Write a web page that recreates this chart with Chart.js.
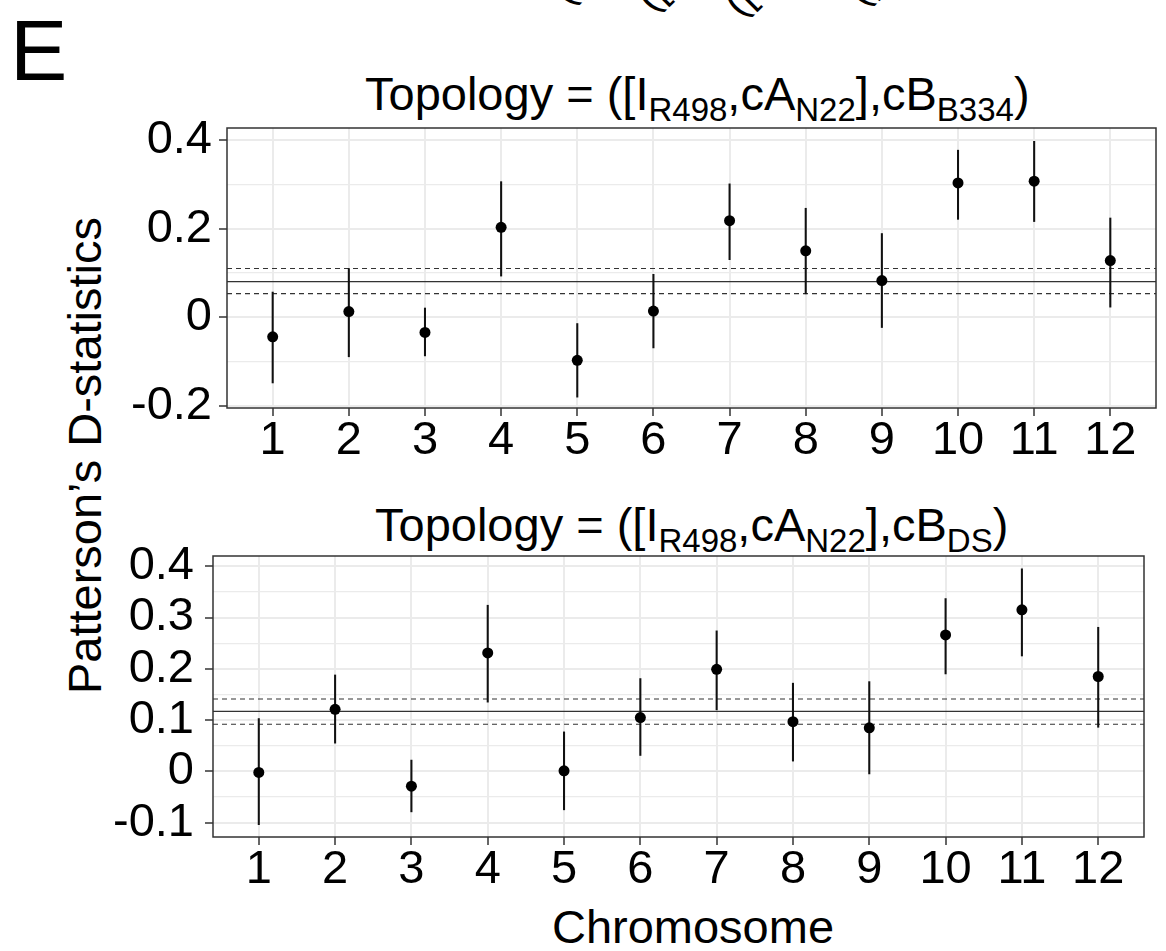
<!DOCTYPE html>
<html>
<head>
<meta charset="utf-8">
<script src="https://cdn.jsdelivr.net/npm/chart.js@4.4.1/dist/chart.umd.min.js"></script>
<style>
  body { margin: 0; width: 1166px; height: 951px; overflow: hidden; background: #fff; position: relative;
         font-family: "Liberation Sans", Arial, Helvetica, sans-serif; color: #000; }
  canvas { position: absolute; left: 0; }
  .txt { position: absolute; line-height: 1; white-space: nowrap; }
  .ttl { font-size: 47px; }
  .ttl sub { font-size: 33px; vertical-align: -11px; line-height: 0; }
  .cut { position: absolute; font-size: 40px; line-height: 1; white-space: nowrap; transform-origin: 0 0; transform: rotate(-45deg); }
</style>
</head>
<body>

<!-- bits of the rotated labels from the panel above, cut by the page edge -->
<div class="cut" style="left:543px; top:-18px;">([I</div>
<div class="cut" style="left:628px; top:-11px;">([I</div>
<div class="cut" style="left:716px; top:-6px;">([I</div>
<div class="cut" style="left:838px; top:-17px;">([I</div>

<div class="txt" style="left:10px; top:7px; font-size:86px;">E</div>

<div class="txt ttl" style="left:365px; top:70px;">Topology = ([I<sub>R498</sub>,cA<sub>N22</sub>],cB<sub>B334</sub>)</div>
<div class="txt ttl" style="left:375px; top:501px;">Topology = ([I<sub>R498</sub>,cA<sub>N22</sub>],cB<sub>DS</sub>)</div>

<div class="txt" style="left:-216px; top:432px; width:600px; text-align:center; font-size:47px; transform:rotate(-90deg);">Patterson’s D-statistics</div>
<div class="txt" style="left:493px; top:903px; width:400px; text-align:center; font-size:47px;">Chromosome</div>

<canvas id="topChart" width="1166" height="470" style="top:0px"></canvas>
<canvas id="botChart" width="1166" height="481" style="top:470px"></canvas>

<script>
// chromosomes on the x axis
const chromosomes = [1, 2, 3, 4, 5, 6, 7, 8, 9, 10, 11, 12];
const xTickLabels = ['1', '2', '3', '4', '5', '6', '7', '8', '9', '10', '11', '12'];
const xMin = 0.4;
const xMax = 12.6;

// topology ([I_R498,cA_N22],cB_B334)
const dB334 = [-0.044, 0.013, -0.034, 0.203, -0.097, 0.014, 0.218, 0.150, 0.083, 0.303, 0.307, 0.128];
const loB334 = [-0.148, -0.089, -0.087, 0.093, -0.180, -0.069, 0.130, 0.053, -0.023, 0.221, 0.216, 0.023];
const hiB334 = [0.057, 0.110, 0.021, 0.306, -0.014, 0.097, 0.301, 0.246, 0.189, 0.377, 0.397, 0.224];
const meanB334 = 0.0805;
const ciB334 = [0.0534, 0.110];
const yTicksB334 = [-0.2, -0.1, 0, 0.1, 0.2, 0.3, 0.4];
const yLabelsB334 = ['-0.2', '', '0', '', '0.2', '', '0.4'];

// topology ([I_R498,cA_N22],cB_DS)
const dDS = [-0.002, 0.121, -0.029, 0.231, 0.001, 0.105, 0.199, 0.097, 0.085, 0.266, 0.315, 0.185];
const loDS = [-0.104, 0.055, -0.079, 0.135, -0.075, 0.031, 0.120, 0.020, -0.005, 0.190, 0.225, 0.086];
const hiDS = [0.103, 0.188, 0.022, 0.324, 0.077, 0.181, 0.274, 0.172, 0.175, 0.337, 0.395, 0.281];
const meanDS = 0.117;
const ciDS = [0.092, 0.141];
const yTicksDS = [-0.1, -0.05, 0, 0.05, 0.1, 0.15, 0.2, 0.25, 0.3, 0.35, 0.4];
const yLabelsDS = ['-0.1', '', '0', '', '0.1', '', '0.2', '', '0.3', '', '0.4'];


const tickFont = { family: '"Liberation Sans", Arial, sans-serif', size: 47, lineHeight: 1 };

// panel border, drawn over the grid
const framePlugin = {
    id: 'frame',
    afterDatasetsDraw(chart) {
        const a = chart.chartArea;
        const c = chart.ctx;
        c.save();
        c.strokeStyle = '#333';
        c.lineWidth = 1.5;
        c.strokeRect(a.left, a.top, a.right - a.left, a.bottom - a.top);
        c.restore();
    }
};

function makePanel(canvasId, p) {
    const hline = (y, dash) => ({
        type: 'line',
        data: [{ x: xMin, y: y }, { x: xMax, y: y }],
        borderColor: '#333',
        borderWidth: 1.1,
        borderDash: dash,
        pointRadius: 0,
        fill: false,
        order: 3
    });

    return new Chart(document.getElementById(canvasId), {
        type: 'scatter',
        data: {
            datasets: [
                {
                    type: 'scatter',
                    data: chromosomes.map((c, i) => ({ x: c, y: p.d[i] })),
                    backgroundColor: '#000',
                    borderWidth: 0,
                    pointRadius: 5.5,
                    order: 0
                },
                {
                    type: 'bar',
                    data: chromosomes.map((c, i) => ({ x: c, y: [p.lo[i], p.hi[i]] })),
                    backgroundColor: '#111',
                    borderWidth: 0,
                    barThickness: 1.4,
                    order: 1
                },
                hline(p.mean, []),
                hline(p.ci[0], [5, 4]),
                hline(p.ci[1], [5, 4])
            ]
        },
        options: {
            responsive: false,
            devicePixelRatio: 1,
            animation: false,
            events: [],
            layout: { padding: { left: 0, right: p.padRight, top: p.padTop, bottom: 0 } },
            plugins: { legend: { display: false }, tooltip: { enabled: false } },
            scales: {
                x: {
                    type: 'linear',
                    min: xMin,
                    max: xMax,
                    offset: false,
                    afterBuildTicks: (scale) => { scale.ticks = chromosomes.map(v => ({ value: v })); },
                    afterFit: (scale) => { scale.height = p.xHeight; },
                    border: { display: false },
                    grid: { offset: false, color: '#EBEBEB', lineWidth: 2, tickColor: '#333', tickWidth: 1.5, tickLength: 8 },
                    ticks: {
                        autoSkip: false, maxRotation: 0, minRotation: 0,
                        color: '#000', font: tickFont, padding: 2,
                        callback: (v, i) => xTickLabels[i]
                    }
                },
                y: {
                    type: 'linear',
                    min: p.yMin,
                    max: p.yMax,
                    afterBuildTicks: (scale) => { scale.ticks = p.yTicks.map(v => ({ value: v })); },
                    afterFit: (scale) => { scale.width = p.yWidth; },
                    border: { display: false },
                    grid: {
                        offset: false,
                        color: '#EBEBEB',
                        lineWidth: (ctx) => p.yLabels[ctx.index] ? 2 : 1.2,
                        tickColor: (ctx) => p.yLabels[ctx.index] ? '#333' : 'rgba(0,0,0,0)',
                        tickWidth: 1.5,
                        tickLength: 8
                    },
                    ticks: {
                        autoSkip: false,
                        color: '#000', font: tickFont, padding: p.yPad,
                        callback: (v, i) => p.yLabels[i]
                    }
                }
            }
        },
        plugins: [framePlugin]
    });
}

makePanel('topChart', {
    d: dB334, lo: loB334, hi: hiB334, mean: meanB334, ci: ciB334,
    yTicks: yTicksB334, yLabels: yLabelsB334, yMin: -0.2045, yMax: 0.427,
    padTop: 128, padRight: 10, yWidth: 227, xHeight: 62, yPad: 7
});

makePanel('botChart', {
    d: dDS, lo: loDS, hi: hiDS, mean: meanDS, ci: ciDS,
    yTicks: yTicksDS, yLabels: yLabelsDS, yMin: -0.128, yMax: 0.42,
    padTop: 86, padRight: 22, yWidth: 213, xHeight: 114, yPad: 11
});
</script>
</body>
</html>
